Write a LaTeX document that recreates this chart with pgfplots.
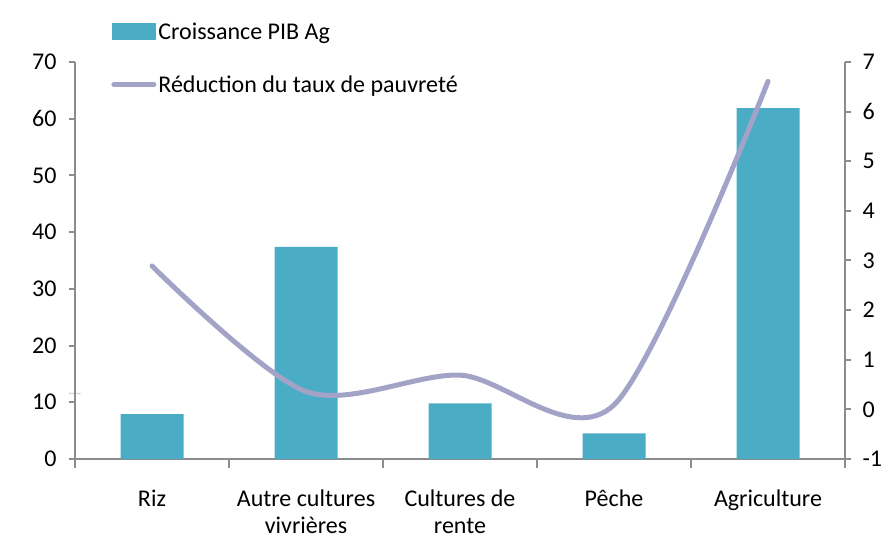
\documentclass[border=0pt]{standalone}
\usepackage{pgfplots}
\pgfplotsset{compat=1.18}
\usepackage{fontspec}
\setmainfont{Carlito}
\definecolor{barc}{HTML}{4BACC6}
\definecolor{linec}{HTML}{A3A2C7}
\definecolor{axc}{HTML}{8C8C8C}
\begin{document}
\begin{tikzpicture}
\useasboundingbox (0,0) rectangle (888pt,538pt);
\pgfplotsset{
  every axis/.append style={
    at={(75pt,79pt)}, anchor=south west,
    scale only axis, width=770pt, height=397pt,
    xmin=-0.5, xmax=4.5,
    font=\fontsize{24}{29}\selectfont,
    /pgf/number format/assume math mode=true,
    axis line style={axc, line width=2pt},
    tick style={axc, line width=2pt},
    tick align=outside,
    major tick length=6pt,
    minor tick length=9pt,
  }
}
\begin{axis}[
  axis y line*=left, axis x line*=bottom,
  ymin=0, ymax=70, ytick={0,10,...,70},
  xtick={0,...,4},
  xticklabels={Riz, {Autre cultures\\vivrières}, {Cultures de\\rente}, Pêche, Agriculture},
  x tick label style={align=center, yshift=-21pt, font=\fontsize{24}{27}\selectfont},
  major x tick style={draw=none},
  minor xtick={-0.5,0.5,...,4.5},
  y tick label style={xshift=-9pt},
  ylabel={\fontsize{2.3}{3}\selectfont Pourcentage},
  ylabel style={at={(rel axis cs:0,0.285)}, xshift=-48pt, rotate=-90, anchor=center, text=gray},
  legend style={at={(rel axis cs:0.047,1.105)}, anchor=north west, draw=none, fill=none,
     inner sep=0pt, row sep=31pt, font=\fontsize{24}{29}\selectfont},
  legend cell align=left,
]
\addplot[ybar, bar width=63pt, fill=barc, draw=none,
  legend image code/.code={\fill[barc] (0pt,-8.5pt) rectangle (44pt,8.5pt);}]
  coordinates {(0,7.9) (1,37.4) (2,9.8) (3,4.5) (4,61.85)};
\addlegendentry{Croissance PIB Ag}
\addlegendimage{linec, line width=5pt, line cap=round,
  legend image code/.code={\draw[linec, line width=5pt, line cap=round] (2pt,0pt) -- (42pt,0pt);}}
\addlegendentry{Réduction du taux de pauvreté}
\end{axis}
\begin{axis}[
  axis y line*=right, axis x line=none,
  ymin=-1, ymax=7, ytick={-1,0,...,7},
  xtick=\empty,
  y tick label style={xshift=8pt},
]
\addplot[linec, line width=5pt, smooth, line cap=round]
  coordinates {(0,2.89) (1,0.36) (2,0.69) (3,0.09) (4,6.61)};
\end{axis}
\end{tikzpicture}
\end{document}
